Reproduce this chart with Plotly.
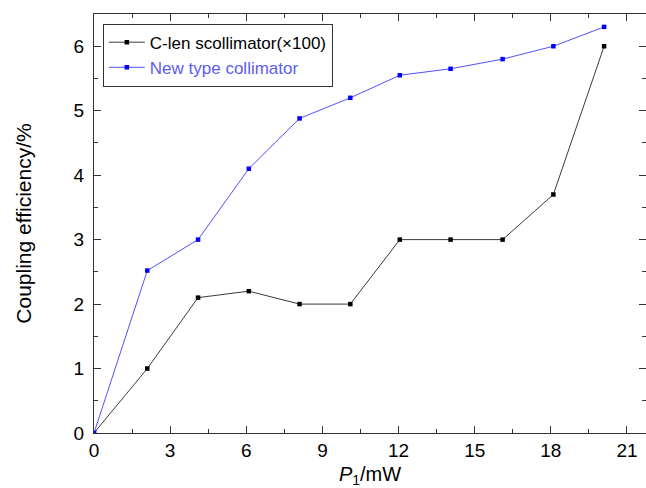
import plotly.graph_objects as go

power_mw = [0, 2.1, 4.1, 6.1, 8.1, 10.1, 12.05, 14.05, 16.1, 18.1, 20.1]
clen_eff = [0, 1.0, 2.1, 2.2, 2.0, 2.0, 3.0, 3.0, 3.0, 3.7, 6.0]
newtype_eff = [0, 2.52, 3.0, 4.1, 4.88, 5.2, 5.55, 5.65, 5.8, 6.0, 6.3]
x_ticks = [0, 3, 6, 9, 12, 15, 18, 21]
y_ticks = [0, 1, 2, 3, 4, 5, 6]

FONT = "Liberation Sans, Arial, sans-serif"

fig = go.Figure()
fig.add_trace(go.Scatter(
    x=power_mw, y=clen_eff, mode="lines+markers",
    name="C-len scollimator(×100)",
    line=dict(color="#3a3a3a", width=1),
    marker=dict(symbol="square", size=4.5, color="#000000"),
))
fig.add_trace(go.Scatter(
    x=power_mw, y=newtype_eff, mode="lines+markers",
    name="<span style='color:#5c5cf0'>New type collimator</span>",
    line=dict(color="#5050ff", width=1),
    marker=dict(symbol="square", size=4.5, color="#0000ff"),
))

axis_common = dict(
    showline=True, linecolor="#333333", linewidth=1, mirror="ticks",
    ticks="inside", ticklen=7, tickwidth=1, tickcolor="#333333",
    showgrid=False, zeroline=False, automargin=False,
    tickfont=dict(family=FONT, size=19, color="#000000"),
)

fig.update_xaxes(
    range=[0, 21.75], tickvals=x_ticks, ticktext=[str(v) for v in x_ticks],
    minor=dict(ticks="inside", ticklen=4, dtick=1.5, tick0=0, tickcolor="#333333", showgrid=False),
    ticklabelstandoff=0,
    title=dict(text="<i>P</i><sub>1</sub>/mW", font=dict(family=FONT, size=20, color="#000000"), standoff=18),
    **axis_common,
)
fig.update_yaxes(
    range=[0, 6.5], tickvals=y_ticks, ticktext=[str(v) for v in y_ticks],
    minor=dict(ticks="inside", ticklen=4, dtick=0.5, tick0=0, tickcolor="#333333", showgrid=False),
    ticklabelstandoff=5,
    title=dict(text="Coupling efficiency/%", font=dict(family=FONT, size=21, color="#000000"), standoff=36),
    **axis_common,
)

fig.update_layout(
    width=646, height=488,
    margin=dict(l=94, r=0, t=14, b=55),
    paper_bgcolor="white", plot_bgcolor="white",
    showlegend=True,
    legend=dict(
        x=0.016, y=0.977, xanchor="left", yanchor="top",
        bordercolor="#333333", borderwidth=1, bgcolor="white",
        font=dict(family=FONT, size=17, color="#000000"),
        itemwidth=36, tracegroupgap=0,
    ),
)

fig.write_html("out.html")
